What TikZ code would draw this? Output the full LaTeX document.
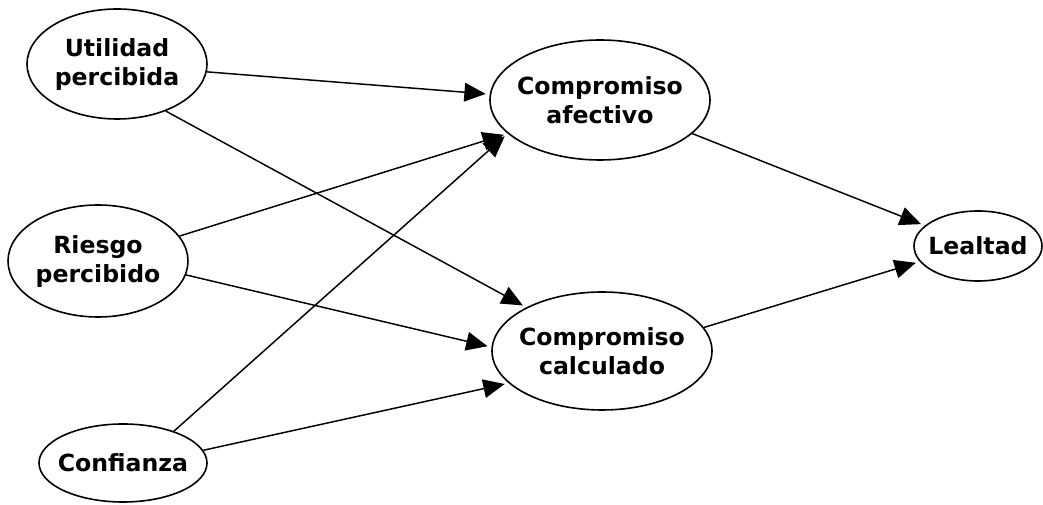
\documentclass[tikz,border=0pt]{standalone}
\usepackage{fontspec}
\setmainfont{DejaVu Sans}
\usetikzlibrary{shapes.geometric, arrows.meta}

\begin{document}
\begin{tikzpicture}[x = 0.75pt, y = -0.75pt,
	> = {Triangle[length = 16pt, width = 14pt]},
	var/.style = {ellipse, draw, line width = 1.2pt, inner xsep = -12pt, inner ysep = 0pt,
		align = center, font = \fontsize{17.7}{21.75}\selectfont\bfseries},
	path/.style = {->, line width = 1.1pt, shorten > = 3pt}]

	% Canvas
	
	\useasboundingbox (0, 0) rectangle (1043, 505);
	
	% Draw constructs
	
	\node [var, minimum width = 135pt, minimum height = 82.5pt] (util) at (117, 64) {Utilidad\\percibida};
	\node [var, minimum width = 135pt, minimum height = 84pt] (riesgo) at (98, 261) {Riesgo\\percibido};
	\node [var, minimum width = 126pt, minimum height = 58.5pt] (conf) at (123, 463) {Confianza};
	\node [var, minimum width = 165pt, minimum height = 90pt] (afec) at (600, 100) {Compromiso\\afectivo};
	\node [var, minimum width = 165pt, minimum height = 88.5pt] (calc) at (602, 351) {Compromiso\\calculado};
	\node [var, minimum width = 96pt, minimum height = 52.5pt] (leal) at (978, 246) {Lealtad};
	
	% Draw paths
	
	\foreach \a/\b in {util.-5/afec.177, util.-44/calc.150, riesgo.17/afec.200, riesgo.-9/calc.178,
		conf.32/afec.200, conf.9/calc.199, afec.-20/leal.159, calc.13/leal.195}
		\draw [path] (\a) -- (\b);
	
\end{tikzpicture}
\end{document}
